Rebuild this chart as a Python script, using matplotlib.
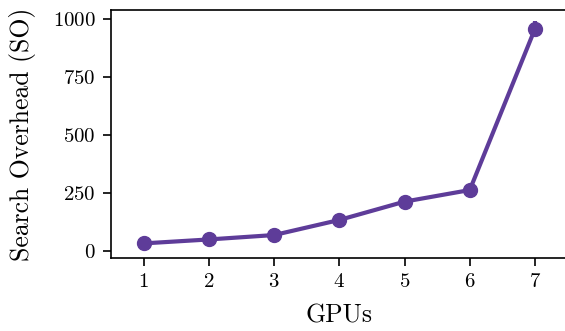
import matplotlib.pyplot as plt

gpus = [1, 2, 3, 4, 5, 6, 7]
so = [33, 50, 69, 134, 213, 263, 958]
so_err = [3, 3, 3, 4, 5, 5, 35]

plt.rcParams['font.family'] = 'serif'
plt.rcParams['font.serif'] = ['cmr10']
plt.rcParams['axes.formatter.use_mathtext'] = True
plt.rcParams['mathtext.fontset'] = 'cm'

fig = plt.figure(figsize=(5.65, 3.31), dpi=100)
ax = fig.add_axes([0.1965, 0.2205, 0.8081, 0.7493])

ax.errorbar(gpus, so, yerr=so_err, color='#5e3c99', linewidth=3,
            marker='o', markersize=10, elinewidth=3, capsize=0)

ax.set_xlim(0.5, 7.5)
ax.set_ylim(-30, 1039)
ax.set_xticks(gpus)
ax.set_yticks([0, 250, 500, 750, 1000])
ax.tick_params(labelsize=15, width=1.2, length=6, pad=5)
ax.set_xlabel('GPUs', fontsize=18.5, labelpad=9)
ax.set_ylabel('Search Overhead (SO)', fontsize=18.5, labelpad=12)
for s in ax.spines.values():
    s.set_linewidth(1.2)

fig.savefig('out.png', dpi=100)
